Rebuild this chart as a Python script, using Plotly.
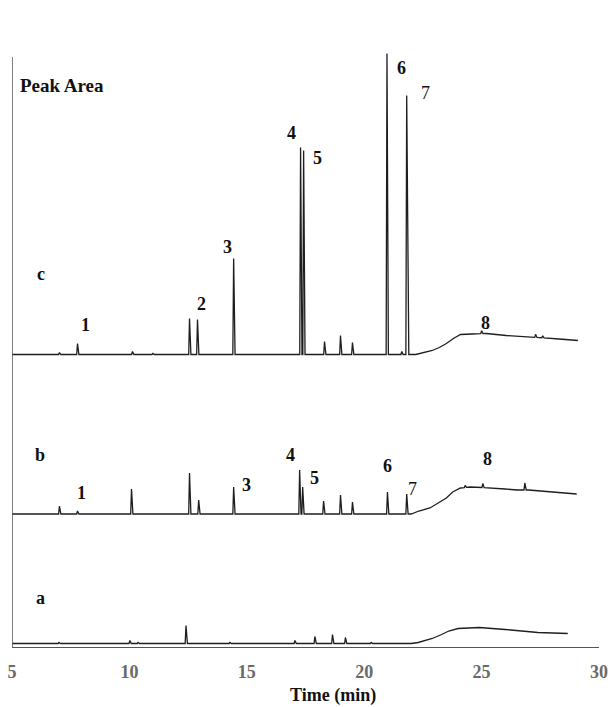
import numpy as np
import plotly.graph_objects as go

# ---- chromatogram data (time in min, signal in arbitrary area units) ----
# peak tables: retention time and peak height above the local baseline
c_peak_t = [7.02, 7.79, 10.13, 11.0, 12.56, 12.90, 14.44, 17.29, 17.42, 18.31, 18.99, 19.50, 20.97, 21.60, 21.81, 25.0, 27.3, 27.6]
c_peak_h = [2, 11, 3, 1, 36, 35, 96, 207, 204, 13, 19, 12, 301, 3, 259, 3, 3, 2]
b_peak_t = [7.02, 7.79, 10.09, 12.56, 12.95, 14.44, 17.25, 17.38, 18.27, 18.99, 19.50, 20.99, 21.81, 24.3, 25.05, 26.84]
b_peak_h = [8, 3, 25, 41, 14, 27, 44, 27, 13, 19, 12, 22, 20, 2, 4, 7]
a_peak_t = [7.00, 10.02, 10.37, 12.41, 14.28, 17.05, 17.90, 18.65, 19.20, 20.30]
a_peak_h = [1, 3, 1, 18, 1, 3, 7, 9, 6, 1]

# baseline drift (column bleed hump) knots
c_base_t = [5.0, 21.9, 22.2, 22.5, 22.9, 23.2, 23.5, 23.8, 24.1, 24.6, 25.2, 26.05, 27.4, 28.3, 29.1]
c_base_y = [0, 0, 0, 2, 4, 7, 11, 16, 20, 20.5, 21, 19, 17, 15.5, 14]
b_base_t = [5.0, 22.0, 22.33, 22.8, 23.17, 23.5, 23.77, 24.1, 24.5, 25.5, 26.0, 26.5, 27.0, 27.5, 28.0, 28.5, 29.05]
b_base_y = [0, 0, 3, 6, 11, 16, 22, 26, 27, 26, 25, 24, 24, 23, 22, 21, 20]
a_base_t = [5.0, 22.0, 22.3, 22.9, 23.3, 23.6, 24.0, 24.9, 26.0, 27.4, 28.67]
a_base_y = [0, 0, 1, 5, 9, 12.5, 15, 16, 14, 11, 10]

# vertical offsets of the stacked runs
offsets = {"c": 292.5, "b": 133.0, "a": 3.5}

# peak labels: (text, time, signal position)
c_labels = [("1", 8.15, 322), ("2", 13.08, 343), ("3", 14.16, 400), ("4", 16.91, 514),
            ("5", 17.99, 489), ("6", 21.57, 579), ("7", 22.63, 554), ("8", 25.15, 324)]
b_labels = [("1", 7.98, 154), ("3", 14.97, 162), ("4", 16.84, 192), ("5", 17.90, 169),
            ("6", 20.99, 181), ("7", 22.07, 158), ("8", 25.27, 188)]
run_labels = [("c", 6.23, 373), ("b", 6.19, 192), ("a", 6.23, 49)]

LEFT_HW, RIGHT_HW = 0.035, 0.06


def build_trace(base_t, base_y, peak_t, peak_h, offset):
    pts = list(zip(base_t, base_y))
    for t, h in zip(peak_t, peak_h):
        b0 = np.interp(t - LEFT_HW, base_t, base_y)
        b1 = np.interp(t, base_t, base_y)
        b2 = np.interp(t + RIGHT_HW, base_t, base_y)
        pts += [(t - LEFT_HW, b0), (t, b1 + h), (t + RIGHT_HW, b2)]
    pts.sort(key=lambda p: p[0])
    xs = [p[0] for p in pts]
    ys = [p[1] + offset for p in pts]
    return xs, ys


fig = go.Figure()
for name, bt, by, pt, ph in [("c", c_base_t, c_base_y, c_peak_t, c_peak_h),
                             ("b", b_base_t, b_base_y, b_peak_t, b_peak_h),
                             ("a", a_base_t, a_base_y, a_peak_t, a_peak_h)]:
    xs, ys = build_trace(bt, by, pt, ph, offsets[name])
    fig.add_trace(go.Scatter(x=xs, y=ys, mode="lines", name=name,
                             line=dict(color="#1e1e1e", width=1.3),
                             showlegend=False, hoverinfo="skip"))

SERIF = "Liberation Serif, Times New Roman, serif"
ann = []
for txt, x, y in c_labels + b_labels:
    bold = txt != "7"
    ann.append(dict(x=x, y=y, xref="x", yref="y", showarrow=False,
                    text=f"<b>{txt}</b>" if bold else txt,
                    font=dict(family=SERIF, size=18, color="#111")))
for txt, x, y in run_labels:
    ann.append(dict(x=x, y=y, xref="x", yref="y", showarrow=False,
                    text=f"<b>{txt}</b>", font=dict(family=SERIF, size=18, color="#111")))
ann.append(dict(x=5.26, y=562, xref="x", yref="y", xanchor="left", yanchor="middle",
                showarrow=False, text="<b>Peak Area</b>",
                font=dict(family=SERIF, size=19, color="#111")))
ann.append(dict(x=0.547, y=-0.081, xref="paper", yref="paper", xanchor="center",
                yanchor="middle", showarrow=False, text="<b>Time (min)</b>",
                font=dict(family=SERIF, size=18, color="#111")))

ticks = [5, 10, 15, 20, 25, 30]
fig.update_layout(
    template="none",
    width=610, height=707,
    margin=dict(l=12, r=11, t=53, b=60, pad=0),
    paper_bgcolor="white", plot_bgcolor="white",
    annotations=ann,
    shapes=[dict(type="line", xref="x", yref="y", x0=5, x1=5, y0=0, y1=590,
                 line=dict(color="#555", width=1.5))],
    xaxis=dict(range=[5, 30], showline=True, linecolor="#555", linewidth=1.3,
               showgrid=False, zeroline=False, ticks="", automargin=False,
               tickvals=ticks, ticktext=[f"<b>{t}</b>" for t in ticks],
               tickfont=dict(family=SERIF, size=18, color="#6a6a6a"),
               ticklabelstandoff=8),
    yaxis=dict(range=[0, 594], showline=False, showgrid=False, zeroline=False,
               showticklabels=False, ticks="", automargin=False),
)

fig.write_html("out.html")
